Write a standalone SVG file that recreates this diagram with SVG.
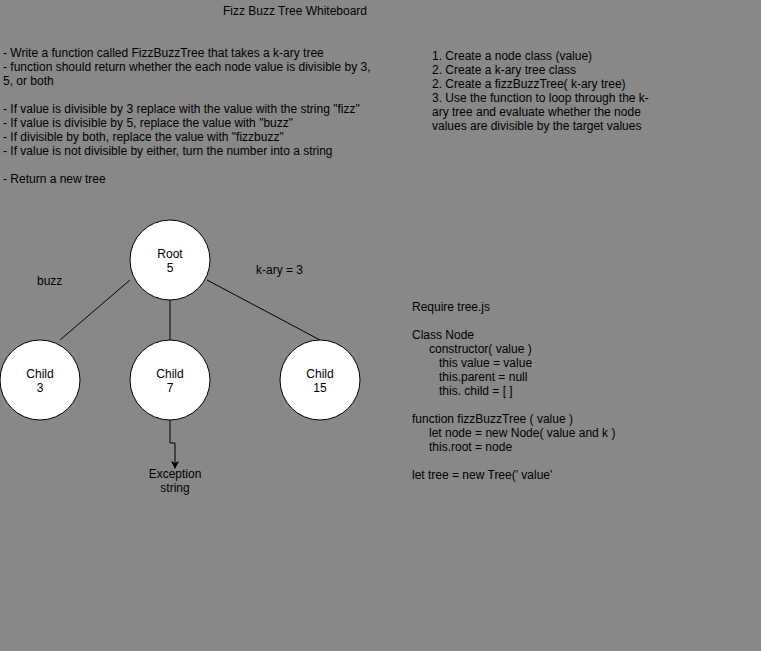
<svg xmlns="http://www.w3.org/2000/svg" width="761" height="651" viewBox="0 0 761 651">
<style>
text{font-family:"Liberation Sans",Arial,sans-serif;font-size:12px;fill:#000}
.c{text-anchor:middle}
.node circle{fill:#fff;stroke:#000;stroke-width:1}
.edge{fill:none;stroke:#000;stroke-width:1}
</style>
<defs>
<marker id="arr" markerWidth="8" markerHeight="8" refX="7" refY="4" orient="auto" markerUnits="userSpaceOnUse">
<path d="M0,0 L8,4 L0,8 L2,4 Z" fill="#000"/>
</marker>
</defs>
<rect width="761" height="651" fill="#888888"/>
<text x="295" y="15" class="c">Fizz Buzz Tree Whiteboard</text>
<g id="requirements">
<text x="3" y="57">- Write a function called FizzBuzzTree that takes a k-ary tree</text>
<text x="3" y="71">- function should return whether the each node value is divisible by 3,</text>
<text x="3" y="85">5, or both</text>
<text x="3" y="113">- If value is divisible by 3 replace with the value with the string "fizz"</text>
<text x="3" y="127">- If value is divisible by 5, replace the value with "buzz"</text>
<text x="3" y="141">- If divisible by both, replace the value with "fizzbuzz"</text>
<text x="3" y="155">- If value is not divisible by either, turn the number into a string</text>
<text x="3" y="183">- Return a new tree</text>
</g>
<g id="steps">
<text x="432" y="60">1. Create a node class (value)</text>
<text x="432" y="74">2. Create a k-ary tree class</text>
<text x="432" y="88">2. Create a fizzBuzzTree( k-ary tree)</text>
<text x="432" y="102">3. Use the function to loop through the k-</text>
<text x="432" y="116">ary tree and evaluate whether the node</text>
<text x="432" y="130">values are divisible by the target values</text>
</g>
<g id="code">
<text x="412" y="311">Require tree.js</text>
<text x="412" y="339">Class Node</text>
<text x="429" y="353">constructor( value )</text>
<text x="439" y="367">this value = value</text>
<text x="439" y="381">this.parent = null</text>
<text x="439" y="395">this. child = [ ]</text>
<text x="412" y="423">function fizzBuzzTree ( value )</text>
<text x="429" y="437">let node = new Node( value and k )</text>
<text x="429" y="451">this.root = node</text>
<text x="412" y="479">let tree = new Tree(' value'</text>
</g>
<g id="connectors">
<line class="edge" x1="130" y1="280" x2="60" y2="340"/>
<line class="edge" x1="170" y1="300" x2="170" y2="340"/>
<line class="edge" x1="207" y1="280" x2="320" y2="340"/>
<path class="edge" d="M170,420 V443 H175 V468" marker-end="url(#arr)"/>
</g>
<g id="root" class="node">
<circle cx="170" cy="260" r="40"/>
<text x="170" y="258" class="c">Root</text>
<text x="170" y="272" class="c">5</text>
</g>
<g id="child3" class="node">
<circle cx="40" cy="380" r="40"/>
<text x="40" y="378" class="c">Child</text>
<text x="40" y="392" class="c">3</text>
</g>
<g id="child7" class="node">
<circle cx="170" cy="380" r="40"/>
<text x="170" y="378" class="c">Child</text>
<text x="170" y="392" class="c">7</text>
</g>
<g id="child15" class="node">
<circle cx="320" cy="380" r="40"/>
<text x="320" y="378" class="c">Child</text>
<text x="320" y="392" class="c">15</text>
</g>
<g id="exception">
<text x="175" y="478" class="c">Exception</text>
<text x="175" y="492" class="c">string</text>
</g>
<text x="37" y="285">buzz</text>
<text x="256" y="274">k-ary = 3</text>
</svg>
